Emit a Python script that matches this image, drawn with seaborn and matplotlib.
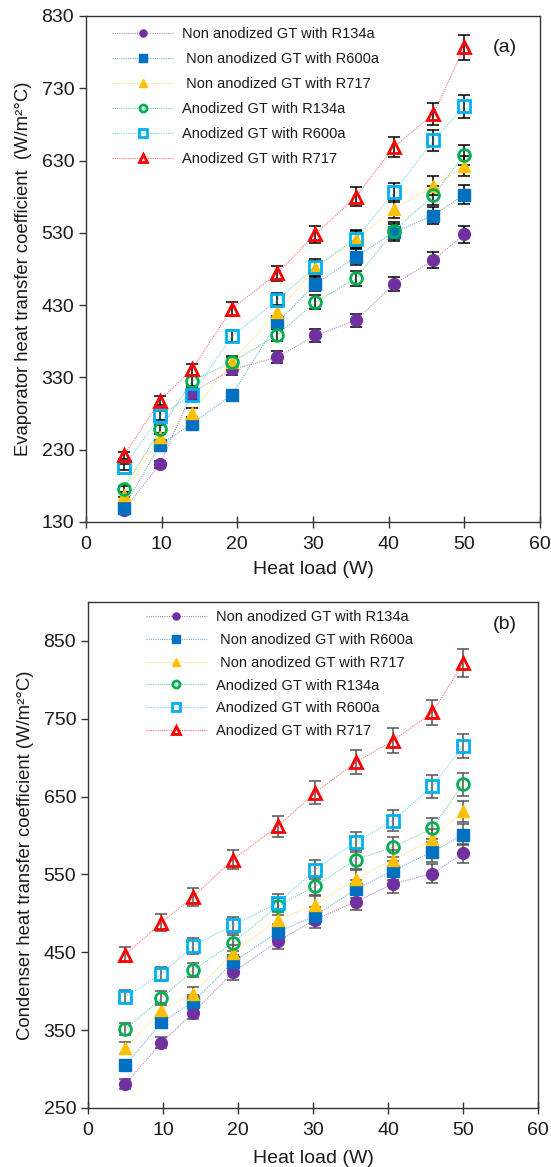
import matplotlib
matplotlib.use("Agg")
import matplotlib.pyplot as plt
import seaborn as sns
import pandas as pd

# ---------------- data ----------------
heat_load = [5, 9.8, 14, 19.3, 25.3, 30.3, 35.7, 40.7, 45.9, 50]

labels = [
    "Non anodized GT with R134a",
    " Non anodized GT with R600a",
    " Non anodized GT with R717",
    "Anodized GT with R134a",
    "Anodized GT with R600a",
    "Anodized GT with R717",
]

# Evaporator heat transfer coefficient (W/m2C), panel (a)
evap_non_r134a = [147, 210, 309, 341, 358, 388, 409, 459, 492, 528]
evap_non_r600a = [150, 237, 266, 306, 406, 459, 497, 531, 554, 583]
evap_non_r717 = [168, 248, 281, 352, 421, 481, 521, 563, 595, 622]
evap_an_r134a = [176, 258, 325, 351, 389, 434, 467, 533, 582, 638]
evap_an_r600a = [206, 277, 306, 387, 437, 483, 522, 586, 658, 705]
evap_an_r717 = [222, 298, 341, 425, 474, 528, 580, 649, 694, 787]

# Condenser heat transfer coefficient (W/m2C), panel (b)
cond_non_r134a = [281, 334, 372, 424, 464, 492, 515, 538, 551, 577]
cond_non_r600a = [305, 360, 386, 437, 476, 497, 531, 555, 579, 601]
cond_non_r717 = [327, 376, 397, 449, 492, 511, 544, 569, 595, 631]
cond_an_r134a = [351, 391, 427, 462, 509, 535, 569, 585, 609, 666]
cond_an_r600a = [393, 422, 458, 485, 513, 556, 592, 619, 663, 715]
cond_an_r717 = [447, 488, 521, 569, 612, 655, 694, 722, 758, 821]

# percentage error bars (as set in the original spreadsheet)
ERR_FRAC = 0.022

evap_ticks = [130, 230, 330, 430, 530, 630, 730, 830]
cond_ticks = [250, 350, 450, 550, 650, 750, 850]
x_ticks = [0, 10, 20, 30, 40, 50, 60]

# ---------------- style ----------------
colors = ["#7030A0", "#0070C0", "#FFC000", "#00B050", "#00B0F0", "#FF0000"]
markers = ["o", "s", "^", "o", "s", "^"]
filled = [True, True, True, False, False, False]

sns.set_style("white")
plt.rcParams["font.family"] = ["Liberation Sans", "DejaVu Sans"]
TXT = "#1a1a1a"

fig = plt.figure(figsize=(5.51, 11.67), dpi=100)
ax_a = fig.add_axes([0.156, 0.5527, 0.824, 0.4336])
ax_b = fig.add_axes([0.1597, 0.0506, 0.8167, 0.4336])


def draw_panel(ax, series, ylim, yticks, ylabel, tag, err_color, leg_anchor, tag_pos,
               labsp, xlabpad):
    for i, (vals, lab) in enumerate(zip(series, labels)):
        df = pd.DataFrame({"x": heat_load, "y": vals})
        c = colors[i]
        ax.errorbar(df["x"], df["y"], yerr=[v * ERR_FRAC for v in vals], fmt="none",
                    ecolor=err_color, elinewidth=1.1, capsize=4, capthick=1.1, zorder=2)
        sns.lineplot(data=df, x="x", y="y", ax=ax, color=c, label=lab,
                     marker=markers[i], markersize=8.5 if markers[i] != "^" else 9.0,
                     markerfacecolor=c if filled[i] else "none",
                     markeredgecolor=c, markeredgewidth=1.0 if filled[i] else 2.0,
                     linestyle=(0, (1, 1)), linewidth=0.8, zorder=3,
                     errorbar=None)
    # make the connecting dotted lines faint like in the original
    for ln in ax.lines:
        col = matplotlib.colors.to_rgba(ln.get_color())
        ln.set_color((col[0], col[1], col[2], 0.55))
        mc = ln.get_markeredgecolor()
        if mc is not None and mc != "none":
            ln.set_markeredgecolor(matplotlib.colors.to_rgba(mc, 1.0))
        mf = ln.get_markerfacecolor()
        if not (isinstance(mf, str) and mf == "none"):
            ln.set_markerfacecolor(matplotlib.colors.to_rgba(mf, 1.0))
    ax.set_xlim(0, 60)
    ax.set_ylim(*ylim)
    ax.set_xticks(x_ticks)
    ax.set_yticks(yticks)
    ax.set_xlabel("Heat load (W)", fontsize=14, color=TXT, labelpad=xlabpad)
    ax.set_ylabel(ylabel, fontsize=13.3, color=TXT, labelpad=7)
    ax.tick_params(axis="both", labelsize=14, colors=TXT, width=1.0,
                   bottom=True, left=True, top=False, right=False)
    ax.tick_params(axis="x", direction="inout", length=8, color="#333333", pad=6)
    ax.tick_params(axis="y", direction="out", length=5, color="#333333")
    for s in ax.spines.values():
        s.set_visible(True)
        s.set_color("#333333")
        s.set_linewidth(1.0)
    leg = ax.legend(loc="upper left", bbox_to_anchor=leg_anchor, frameon=False,
                    fontsize=10.5, markerscale=0.6, handlelength=4.2,
                    handletextpad=0.6, labelspacing=labsp, borderaxespad=0)
    for t in leg.get_texts():
        t.set_color(TXT)
    ax.text(tag_pos[0], tag_pos[1], tag, transform=ax.transAxes, fontsize=14,
            color=TXT, ha="center", va="center")


draw_panel(ax_a,
           [evap_non_r134a, evap_non_r600a, evap_non_r717,
            evap_an_r134a, evap_an_r600a, evap_an_r717],
           (130, 830), evap_ticks,
           "Evaporator heat transfer coefficient  (W/m\u00b2\u00b0C)", "(a)", "black",
           (0.045, 0.990), (0.923, 0.937), 0.76, 6)

draw_panel(ax_b,
           [cond_non_r134a, cond_non_r600a, cond_non_r717,
            cond_an_r134a, cond_an_r600a, cond_an_r717],
           (250, 900), cond_ticks,
           "Condenser heat transfer coefficient (W/m\u00b2\u00b0C)", "(b)", "#555555",
           (0.115, 0.995), (0.927, 0.955), 0.60, 8)

fig.savefig("out.png", dpi=100)
